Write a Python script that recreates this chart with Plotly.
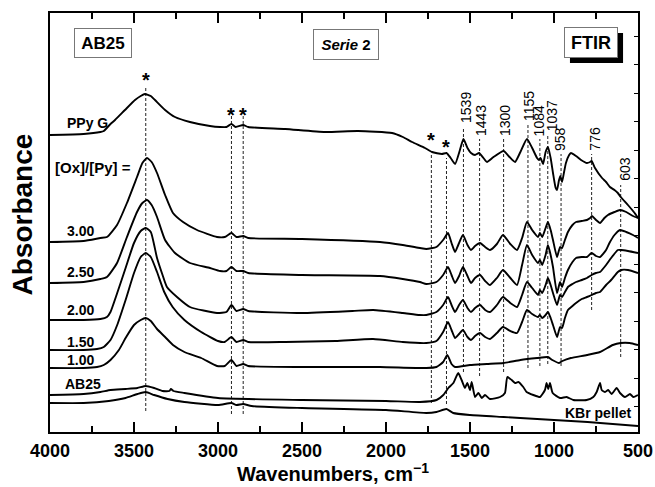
import plotly.graph_objects as go

# FTIR spectra, (wavenumber cm-1, absorbance a.u.) -- stacked with vertical offsets
ppy_g = [(4000, 297), (3800, 298), (3700, 300), (3680, 301), (3640, 308), (3613, 312), (3554, 322),
         (3494, 332), (3460, 336), (3435, 338), (3400, 336), (3375, 332), (3315, 322), (3256, 315),
         (3167, 310), (3048, 306), (2988, 305), (2950, 305), (2920, 308), (2895, 305), (2850, 307),
         (2820, 305), (2600, 303), (2363, 300), (2167, 301), (1964, 299), (1900, 295), (1845, 290),
         (1768, 284), (1726, 280), (1667, 278), (1640, 279), (1615, 274), (1589, 268), (1560, 282),
         (1539, 293), (1515, 284), (1494, 279), (1470, 277), (1446, 279), (1420, 274), (1399, 270),
         (1360, 275), (1300, 281), (1265, 275), (1232, 270), (1200, 280), (1161, 293), (1130, 284),
         (1101, 274), (1090, 272), (1080, 274), (1065, 268), (1050, 280), (1036, 285), (1020, 274),
         (1006, 259), (990, 244), (982, 242), (970, 252), (962, 256), (952, 250), (940, 260),
         (929, 269), (910, 277), (899, 279), (869, 276), (839, 272), (804, 269), (785, 270),
         (776, 271), (756, 264), (714, 254), (690, 250), (667, 245), (640, 242), (620, 239),
         (603, 235), (560, 227), (520, 219), (500, 214)]

ox_300 = [(4000, 190), (3800, 191), (3700, 194), (3661, 195), (3601, 207), (3542, 229), (3482, 255),
          (3450, 269), (3423, 274), (3395, 270), (3363, 259), (3315, 237), (3268, 219), (3208, 210),
          (3125, 202), (3006, 195), (2960, 195), (2920, 199), (2890, 195), (2850, 196), (2820, 194),
          (2500, 193), (2036, 190), (1900, 187), (1798, 184), (1760, 183), (1700, 185), (1660, 192),
          (1631, 199), (1610, 189), (1589, 180), (1570, 187), (1542, 197), (1515, 187), (1494, 182),
          (1470, 186), (1440, 189), (1410, 185), (1381, 182), (1340, 188), (1304, 197), (1260, 188),
          (1220, 182), (1190, 194), (1161, 210), (1130, 202), (1095, 195), (1084, 199), (1070, 195),
          (1050, 204), (1036, 210), (1020, 202), (1006, 192), (982, 175), (964, 185), (952, 184),
          (935, 192), (917, 200), (890, 207), (869, 210), (835, 211), (804, 212), (785, 214),
          (774, 216), (750, 212), (726, 209), (700, 214), (679, 217), (640, 220), (607, 222),
          (570, 220), (530, 216), (500, 214)]

ox_250 = [(4000, 149), (3800, 150), (3700, 153), (3661, 155), (3601, 169), (3542, 195), (3482, 220),
          (3450, 229), (3423, 232), (3395, 227), (3363, 215), (3315, 192), (3256, 179), (3167, 169),
          (3048, 164), (2988, 161), (2950, 161), (2920, 165), (2890, 161), (2850, 161), (2820, 159),
          (2500, 157), (2036, 156), (1900, 153), (1798, 150), (1760, 148), (1700, 150), (1660, 157),
          (1631, 165), (1610, 157), (1589, 149), (1565, 156), (1542, 165), (1515, 156), (1494, 149),
          (1470, 154), (1440, 157), (1410, 151), (1381, 147), (1340, 154), (1304, 162), (1260, 154),
          (1220, 147), (1190, 167), (1161, 187), (1130, 177), (1095, 169), (1084, 172), (1070, 167),
          (1050, 177), (1036, 187), (1020, 177), (1006, 165), (982, 139), (964, 150), (952, 145),
          (935, 154), (917, 162), (890, 170), (869, 174), (835, 175), (804, 175), (776, 179),
          (750, 176), (726, 175), (690, 182), (670, 189), (640, 197), (607, 202), (570, 200),
          (530, 197), (500, 194)]

ox_200 = [(4000, 112), (3800, 112), (3700, 113), (3661, 115), (3640, 120), (3600, 139), (3550, 164),
          (3500, 189), (3460, 201), (3430, 204), (3400, 200), (3363, 174), (3330, 157), (3304, 145),
          (3244, 135), (3167, 125), (3006, 119), (2950, 120), (2920, 127), (2890, 121), (2850, 123),
          (2820, 121), (2500, 119), (2200, 121), (2077, 122), (1900, 119), (1800, 117), (1760, 117),
          (1700, 120), (1660, 127), (1631, 135), (1610, 127), (1589, 120), (1565, 127), (1542, 132),
          (1515, 124), (1494, 120), (1470, 124), (1440, 127), (1410, 122), (1381, 120), (1340, 127),
          (1304, 135), (1260, 129), (1220, 125), (1190, 137), (1161, 150), (1130, 144), (1095, 137),
          (1084, 142), (1070, 139), (1050, 147), (1036, 154), (1020, 147), (1006, 139), (982, 127),
          (964, 137), (952, 135), (935, 140), (917, 145), (890, 148), (869, 150), (835, 152),
          (804, 154), (776, 157), (750, 159), (726, 160), (690, 167), (660, 174), (620, 182),
          (600, 182), (560, 181), (500, 179)]

ox_150 = [(4000, 82), (3800, 82), (3720, 83), (3680, 85), (3640, 92), (3600, 107), (3550, 132),
          (3500, 159), (3460, 175), (3430, 179), (3400, 175), (3363, 160), (3320, 140), (3270, 125),
          (3200, 112), (3100, 100), (3000, 91), (2960, 90), (2920, 95), (2890, 90), (2850, 92),
          (2820, 90), (2600, 90), (2300, 91), (2077, 93), (1900, 90), (1760, 89), (1700, 91),
          (1660, 100), (1631, 110), (1610, 102), (1589, 94), (1565, 98), (1542, 102), (1515, 95),
          (1494, 92), (1470, 96), (1440, 99), (1410, 95), (1381, 93), (1340, 99), (1304, 105),
          (1260, 101), (1220, 99), (1190, 110), (1161, 122), (1130, 118), (1095, 115), (1084, 117),
          (1070, 114), (1050, 117), (1036, 120), (1020, 114), (1006, 107), (982, 95), (964, 105),
          (952, 104), (935, 114), (917, 122), (890, 126), (869, 129), (835, 133), (804, 135),
          (776, 137), (750, 139), (726, 140), (690, 147), (660, 152), (620, 160), (600, 162),
          (560, 162), (500, 159)]

ox_100 = [(4000, 64), (3800, 64), (3720, 65), (3680, 67), (3640, 72), (3590, 82), (3550, 94),
          (3500, 107), (3460, 112), (3430, 114), (3400, 111), (3363, 103), (3315, 95), (3268, 87),
          (3200, 80), (3100, 74), (3006, 66), (2960, 66), (2920, 72), (2890, 66), (2850, 68),
          (2820, 66), (2500, 65), (2036, 65), (1760, 64), (1700, 65), (1660, 70), (1635, 77),
          (1610, 68), (1589, 65), (1500, 67), (1400, 68), (1300, 69), (1200, 72), (1100, 74),
          (1037, 75), (1010, 72), (970, 69), (950, 71), (900, 74), (804, 77), (726, 80), (650, 87),
          (603, 89), (550, 89), (500, 87)]

ab25 = [(4000, 37), (3800, 38), (3700, 40), (3640, 42), (3550, 43), (3480, 44), (3430, 46),
        (3380, 44), (3330, 41), (3290, 41), (3280, 43), (3265, 41), (3200, 39), (3000, 34),
        (2500, 32), (2000, 31), (1798, 30), (1699, 32), (1659, 37), (1629, 44), (1599, 49),
        (1570, 59), (1550, 52), (1530, 44), (1516, 49), (1500, 42), (1490, 50), (1470, 35),
        (1450, 39), (1430, 34), (1411, 37), (1381, 33), (1321, 35), (1292, 39), (1278, 55),
        (1252, 52), (1232, 49), (1212, 50), (1183, 45), (1163, 40), (1123, 37), (1083, 35),
        (1054, 42), (1044, 49), (1034, 43), (1024, 49), (1008, 39), (964, 34), (925, 35),
        (885, 32), (806, 32), (766, 35), (746, 40), (726, 49), (716, 42), (696, 40), (677, 42),
        (657, 38), (627, 44), (607, 39), (577, 35), (548, 38), (528, 35), (500, 37)]

kbr = [(4000, 29), (3800, 29), (3650, 31), (3550, 34), (3480, 38), (3430, 40), (3380, 37),
       (3300, 33), (3200, 30), (3000, 27), (2920, 29), (2890, 27), (2850, 28), (2800, 26),
       (2500, 24), (2000, 22), (1760, 19), (1700, 20), (1640, 23), (1600, 19), (1500, 17),
       (1300, 15), (1100, 13), (1000, 12), (800, 10), (650, 8), (500, 6)]

spectra = [ppy_g, ox_300, ox_250, ox_200, ox_150, ox_100, ab25, kbr]

# Band markers: wavenumber, top and bottom of the dashed guide (a.u.)
band_wn = [3430, 2920, 2850, 1730, 1640, 1539, 1443, 1300, 1155, 1084, 1037, 958, 776, 603]
band_top = [345, 319, 319, 279, 274, 305, 293, 293, 308, 293, 298, 278, 278, 247]
band_bot = [21, 18, 18, 29, 28, 60, 56, 60, 64, 66, 68, 66, 122, 75]

# Numbered band labels (rotated) and asterisk marks
num_wn = [1539, 1443, 1300, 1155, 1084, 1037, 958, 776, 603]
num_y = [307, 294, 294, 309, 294, 299, 279, 279, 249]
num_dx = [2, 1, 1, 1, -1, 4, -1, 3, 4]
star_wn = [3430, 2920, 2850, 1730, 1640]
star_y = [352, 317, 317, 292, 285]

# Curve labels
curve_labels = ["PPy G", "[Ox]/[Py] =", "3.00", "2.50", "2.00", "1.50", "1.00", "AB25"]
curve_label_y = [309, 265, 201, 160, 122, 90, 72, 48]
curve_label_x = [3911, 3982, 3911, 3911, 3911, 3911, 3911, 3923]

FONT = "Liberation Sans, Arial, sans-serif"

fig = go.Figure()

for wn, top, bot in zip(band_wn, band_top, band_bot):
    fig.add_trace(go.Scatter(x=[wn, wn], y=[bot, top], mode="lines",
                             line=dict(color="#222", width=1, dash="3px,2px"),
                             hoverinfo="skip", showlegend=False))

for sp in spectra:
    xs = [p[0] for p in sp]
    ys = [p[1] for p in sp]
    fig.add_trace(go.Scatter(x=xs, y=ys, mode="lines",
                             line=dict(color="black", width=1.9, shape="spline", smoothing=0.5),
                             hoverinfo="skip", showlegend=False))

ann = []
for wn, y, dx in zip(num_wn, num_y, num_dx):
    ann.append(dict(x=wn, y=y, text=str(wn), textangle=-90, showarrow=False,
                    xanchor="center", yanchor="bottom", xshift=dx,
                    font=dict(family=FONT, size=14, color="black")))
for wn, y in zip(star_wn, star_y):
    ann.append(dict(x=wn, y=y, text="*", showarrow=False, xanchor="center", yanchor="middle",
                    font=dict(family=FONT, size=20, color="black", weight="bold")))
for t, x, y in zip(curve_labels, curve_label_x, curve_label_y):
    ann.append(dict(x=x, y=y, text=t, showarrow=False, xanchor="left", yanchor="middle",
                    font=dict(family=FONT, size=15 if t.startswith("[") else 14,
                              color="black", weight="bold")))
ann.append(dict(x=530, y=19, text="KBr pellet", showarrow=False, xanchor="right", yanchor="middle",
                font=dict(family=FONT, size=14, color="black", weight="bold")))

# Boxed captions
ann.append(dict(x=3685, y=389, text="AB25", showarrow=False, width=56, height=28,
                bordercolor="#777", borderwidth=1, borderpad=0, bgcolor="white",
                font=dict(family=FONT, size=17, color="black", weight="bold")))
ann.append(dict(x=2238, y=387.5, text="<i>Serie</i> 2", showarrow=False, width=64, height=29,
                bordercolor="#777", borderwidth=1, borderpad=0, bgcolor="white",
                font=dict(family=FONT, size=15, color="black", weight="bold")))
ann.append(dict(x=780, y=389.5, text="FTIR", showarrow=False, width=52, height=29,
                bordercolor="#777", borderwidth=1, borderpad=0, bgcolor="white",
                font=dict(family=FONT, size=18, color="black", weight="bold")))

# Axis titles
ann.append(dict(xref="paper", yref="paper", x=0.481, y=-0.097, text="Wavenumbers, cm<sup>\u22121</sup>",
                showarrow=False, xanchor="center", yanchor="middle",
                font=dict(family=FONT, size=20, color="black", weight="bold")))
ann.append(dict(xref="paper", yref="paper", x=-0.047, y=0.52, text="Absorbance", textangle=-90,
                showarrow=False, xanchor="center", yanchor="middle",
                font=dict(family=FONT, size=28, color="black", weight="bold")))

shapes = [dict(type="rect", xref="x", yref="y", x0=905, x1=589, y0=369, y1=399,
               fillcolor="black", line=dict(width=0), layer="above")]

fig.update_layout(
    width=655, height=487,
    margin=dict(l=50, r=17, t=13, b=55),
    paper_bgcolor="white", plot_bgcolor="white",
    annotations=ann, shapes=shapes,
    xaxis=dict(range=[4000, 500], tickvals=[4000, 3500, 3000, 2500, 2000, 1500, 1000, 500],
               ticks="inside", ticklen=10, tickwidth=1.5, tickcolor="black",
               minor=dict(dtick=250, ticks="inside", ticklen=6, tickwidth=1.5, tickcolor="black"),
               showline=True, linecolor="black", linewidth=2, mirror="ticks",
               showgrid=False, zeroline=False, ticklabelstandoff=1, automargin=False,
               tickfont=dict(family=FONT, size=18, color="black", weight="bold")),
    yaxis=dict(range=[0, 419], showticklabels=False, ticks="", showline=True,
               linecolor="black", linewidth=2, mirror=True, showgrid=False, zeroline=False,
               automargin=False),
    yaxis2=dict(range=[0, 419], overlaying="y", side="right", showticklabels=False,
                ticks="inside", ticklen=4, tickwidth=1, tickcolor="black", automargin=False,
                tick0=282, dtick=28.5, showgrid=False, zeroline=False, showline=False),
)
# invisible trace to bring in the right-hand tick axis
fig.add_trace(go.Scatter(x=[4000], y=[0], yaxis="y2", mode="markers",
                         marker=dict(opacity=0), hoverinfo="skip", showlegend=False))

fig.write_html("out.html")
